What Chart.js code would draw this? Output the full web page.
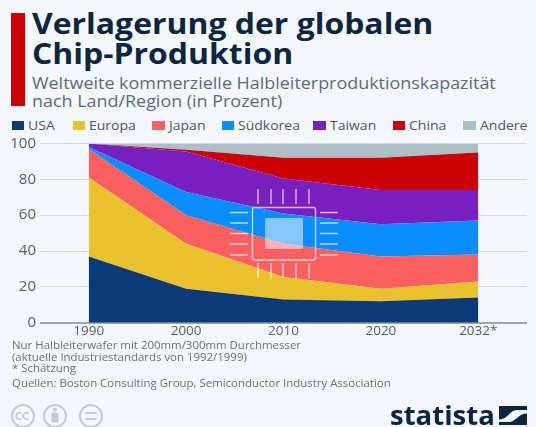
<!DOCTYPE html>
<html lang="de">
<head>
<meta charset="utf-8">
<title>Verlagerung der globalen Chip-Produktion</title>
<script src="https://cdn.jsdelivr.net/npm/chart.js@4"></script>
<style>
  html, body { margin: 0; padding: 0; background: #f4f7fb; }
  body { position: relative; width: 536px; height: 427px; overflow: hidden; font-family: "Open Sans", sans-serif; }
  .abs { position: absolute; white-space: nowrap; }
  .wide { transform-origin: 0 0; transform: scaleX(1.14); }
  #bar { left: 11px; top: 13px; width: 13.5px; height: 93px; background: #cc0000; }
  #title { left: 32px; top: 9px; font-size: 28px; font-weight: 700; line-height: 29.5px; color: #0d2640; }
  #sub { left: 32px; top: 73.5px; font-size: 16px; line-height: 18.3px; color: #5c6b7c; transform: scaleX(1.12); }
  #legend { left: 0; top: 117px; height: 18px; width: 536px; font-size: 12.5px; color: #4a5866; }
  #legend i { position: absolute; top: 4px; width: 12.5px; height: 9px; }
  #legend span { position: absolute; top: 0; line-height: 18px; transform-origin: 0 0; transform: scaleX(1.12); }
  #plot { left: 0; top: 130px; width: 536px; height: 215px; }
  #chip { left: 0; top: 0; pointer-events: none; }
  #notes { left: 12px; top: 340px; font-size: 10.3px; line-height: 11.6px; color: #66727e; transform: scaleX(1.11); transform-origin: 0 0; }
  #notes div.src { margin-top: 3px; }
  #brand { left: 390px; top: 395px; font-size: 27.5px; font-weight: 700; line-height: 40px; color: #0d2640; }
</style>
</head>
<body>
<div class="abs" id="bar"></div>
<div class="abs wide" id="title">Verlagerung der globalen<br>Chip-Produktion</div>
<div class="abs wide" id="sub">Weltweite kommerzielle Halbleiterproduktionskapazität<br>nach Land/Region (in Prozent)</div>
<div class="abs" id="legend"></div>
<div class="abs" id="plot"><canvas id="chart" width="536" height="215"></canvas></div>

<!-- chip pictogram laid over the plot -->
<svg class="abs" id="chip" width="536" height="427">
  <g stroke="#ffffff" stroke-opacity="0.7" stroke-width="1.4" fill="none">
    <path d="M258 189V204M271 189V204M283 189V204M296 189V204M309 189V204"/>
    <path d="M258 263V278M271 263V278M283 263V278M296 263V278M309 263V278"/>
    <path d="M230 212.5H248M230 223H248M230 233.5H248M230 244H248M230 255H248"/>
    <path d="M320 212.5H338M320 223H338M320 233.5H338M320 244H338M320 255H338"/>
    <rect x="252.5" y="207.5" width="63" height="52.5" rx="2"/>
  </g>
  <rect x="265" y="218" width="38" height="31" rx="2" fill="#ffffff" fill-opacity="0.5"/>
</svg>

<div class="abs" id="notes">
  Nur Halbleiterwafer mit 200mm/300mm Durchmesser<br>
  (aktuelle Industriestandards von 1992/1999)<br>
  * Schätzung
  <div class="src">Quellen: Boston Consulting Group, Semiconductor Industry Association</div>
</div>

<!-- licence badges -->
<svg class="abs" style="left:0;top:400px" width="110" height="27">
  <g fill="none" stroke="#c6cbd0" stroke-width="2">
    <circle cx="23" cy="16" r="11"/><circle cx="55" cy="16" r="11"/><circle cx="91" cy="16" r="11"/>
    <path d="M85.5 13H96.5M85.5 19H96.5"/>
  </g>
  <g fill="none" stroke="#c6cbd0" stroke-width="1.6">
    <path d="M21.5 13.5a3.2 3.2 0 1 0 0 5M28.5 13.5a3.2 3.2 0 1 0 0 5"/>
  </g>
  <circle cx="55" cy="9.5" r="2" fill="#c6cbd0"/>
  <rect x="51.5" y="12.5" width="7" height="10" rx="1.5" fill="#c6cbd0"/>
</svg>

<div class="abs" id="brand">statista</div>
<svg class="abs" style="left:499px;top:406px" width="28" height="19">
  <rect width="28" height="19" fill="#0d2640"/>
  <path d="M0 13.5C9 13.5 11 4 18 4H28V7.5C19 7.5 17 16 9.5 16H0Z" fill="#f4f7fb"/>
</svg>

<script>
  // Shares per year, in percent
  const years = ['1990', '2000', '2010', '2020', '2032*'];
  const usa       = [37, 19, 13, 12, 14];
  const europa    = [44, 25, 12.5, 7, 9];
  const japan     = [16, 16, 18.5, 18, 15];
  const suedkorea = [1, 13, 17, 18, 19];
  const taiwan    = [2, 22.5, 19.5, 19, 17];
  const china     = [0, 1, 11.5, 18, 21];
  const andere    = [0, 3.5, 8, 8, 5];

  const seriesNames  = ['USA', 'Europa', 'Japan', 'Südkorea', 'Taiwan', 'China', 'Andere'];
  const seriesValues = [usa, europa, japan, suedkorea, taiwan, china, andere];
  const seriesColors = ['#0b3a7a', '#eac22d', '#f9605f', '#0a8dff', '#7a1fbf', '#cc0000', '#adbfc9'];
  const legendLeft   = [11.5, 72.5, 152, 221.5, 313, 392.5, 463];

  // Legend row
  const legendEl = document.getElementById('legend');
  seriesNames.forEach((name, i) => {
    const swatch = document.createElement('i');
    swatch.style.left = legendLeft[i] + 'px';
    swatch.style.background = seriesColors[i];
    legendEl.appendChild(swatch);
    const text = document.createElement('span');
    text.style.left = (legendLeft[i] + 16.5) + 'px';
    text.textContent = name;
    legendEl.appendChild(text);
  });

  const datasets = seriesNames.map((name, i) => ({
    label: name,
    data: seriesValues[i],
    backgroundColor: seriesColors[i],
    borderWidth: 0,
    pointRadius: 0,
    tension: 0,
    fill: i === 0 ? 'origin' : '-1'
  }));

  new Chart(document.getElementById('chart'), {
    type: 'line',
    data: { labels: years, datasets },
    options: {
      responsive: false,
      animation: false,
      layout: { padding: { top: 13.5, right: 9, left: 0, bottom: 0 } },
      plugins: { legend: { display: false }, tooltip: { enabled: false } },
      scales: {
        x: {
          offset: true,
          stacked: true,
          grid: { display: false, drawTicks: false },
          border: { display: false },
          afterFit: (scale) => { scale.height = 22.3; },
          ticks: {
            autoSkip: false,
            maxRotation: 0,
            padding: 0,
            color: '#55606c',
            font: { family: '"Open Sans"', size: 13.5 }
          }
        },
        y: {
          stacked: true,
          min: 0,
          max: 100,
          afterFit: (scale) => { scale.width = 40; },
          border: { display: false },
          grid: {
            drawTicks: false,
            color: (c) => (c.tick.value === 0 ? '#9ea5ab' : '#d6dce1'),
            lineWidth: (c) => (c.tick.value === 0 ? 2 : 1)
          },
          ticks: {
            stepSize: 20,
            padding: 4,
            color: '#55606c',
            font: { family: '"Open Sans"', size: 15 }
          }
        }
      }
    }
  });
</script>
</body>
</html>
